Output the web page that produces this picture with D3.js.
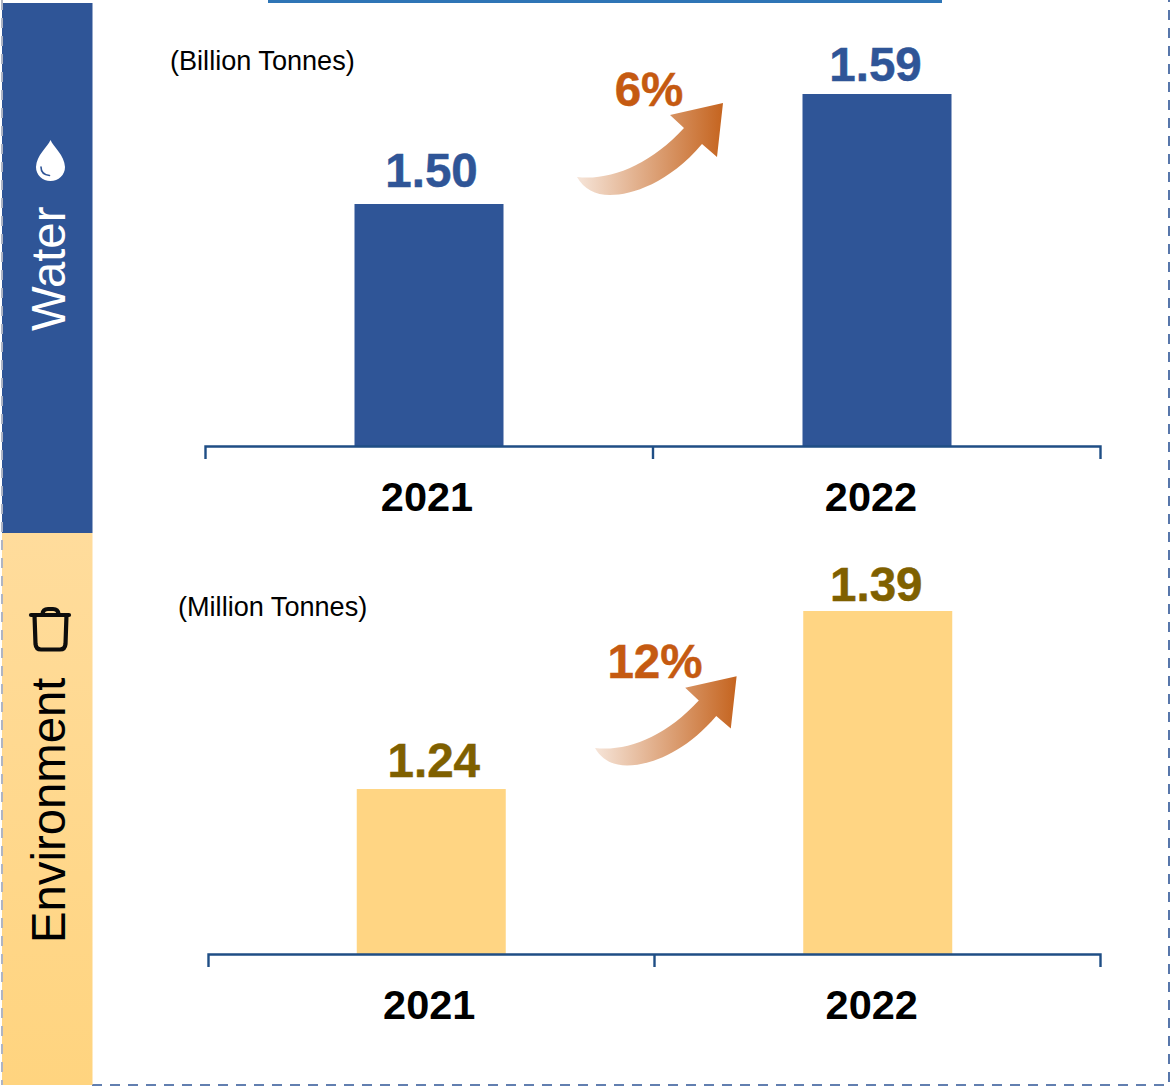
<!DOCTYPE html>
<html>
<head>
<meta charset="utf-8">
<script src="https://cdn.jsdelivr.net/npm/d3@7"></script>
<style>
  html, body { margin: 0; padding: 0; background: #fff; }
  svg { display: block; font-family: "Liberation Sans", Arial, sans-serif; }
</style>
</head>
<body>
<svg id="chart" width="1170" height="1086"></svg>
<script>
// Reported figures, two years per panel
const years = ["2021", "2022"];
const waterValues = [1.50, 1.59];
const wasteValues = [1.24, 1.39];
const waterChange = "6%";
const wasteChange = "12%";
const waterUnit = "(Billion Tonnes)";
const wasteUnit = "(Million Tonnes)";

const BLUE = "#2F5597", SAND = "#FFD583", RUST = "#C55A11", OLIVE = "#7F6000", AXIS = "#1F4E85";

const svg = d3.select("#chart");
const defs = svg.append("defs");

const sandFill = defs.append("linearGradient").attr("id", "sandFill")
  .attr("x1", 0).attr("y1", 0).attr("x2", 0).attr("y2", 1);
sandFill.append("stop").attr("offset", 0).attr("stop-color", "#FFDC9C");
sandFill.append("stop").attr("offset", 1).attr("stop-color", "#FFD47F");

const arrowFill = defs.append("linearGradient").attr("id", "arrowFill")
  .attr("x1", 0).attr("y1", 0).attr("x2", 1).attr("y2", 0);
arrowFill.append("stop").attr("offset", 0).attr("stop-color", "#F6E5D9");
arrowFill.append("stop").attr("offset", 1).attr("stop-color", "#C5641F");

// Page frame: dashed edge and the short rule along the top
const dash = "10 8";
svg.append("path").attr("d", "M92,1085H1169V0").attr("fill", "none")
  .attr("stroke", BLUE).attr("stroke-width", 1.6).attr("stroke-dasharray", dash);
svg.append("rect").attr("x", 268).attr("y", 0).attr("width", 674).attr("height", 3).attr("fill", "#2E75B6");

// Side bands
svg.append("rect").attr("x", 2).attr("y", 3).attr("width", 90.5).attr("height", 530).attr("fill", BLUE);
svg.append("rect").attr("x", 2).attr("y", 533).attr("width", 90.5).attr("height", 552).attr("fill", "url(#sandFill)");
svg.append("path").attr("d", "M2,0V1085").attr("fill", "none")
  .attr("stroke", "#AEB4C4").attr("stroke-width", 2).attr("stroke-dasharray", dash);

function bandLabel(text, x, y, color) {
  svg.append("text").attr("transform", `translate(${x},${y}) rotate(-90)`)
    .attr("font-size", 47.3).attr("fill", color).text(text);
}
bandLabel("Water", 65, 331, "#fff");
bandLabel("Environment", 65, 943, "#000");

// Water drop
const drop = svg.append("g").attr("transform", "translate(50.5,140)");
drop.append("path").attr("fill", "#fff")
  .attr("d", "M0,0 C3,7 14,15 14.5,27 C14.5,35 8,41 0,41 C-8,41 -14.5,35 -14.5,27 C-14,15 -3,7 0,0Z");
drop.append("path").attr("fill", "none").attr("stroke", BLUE).attr("stroke-width", 1.6)
  .attr("stroke-linecap", "round").attr("d", "M-9.5,27 C-9.5,32 -6,35 -1,35.5");

// Waste bin
const bin = svg.append("g").attr("fill", "none").attr("stroke", "#0d0d0d")
  .attr("stroke-width", 4.2).attr("stroke-linecap", "round").attr("stroke-linejoin", "round");
bin.append("path").attr("d", "M31,615H69");
bin.append("path").attr("d", "M34.5,615L35.5,644Q36,649.5 41,649.5H60Q65,649.5 65.5,644L66.5,615");
bin.append("path").attr("d", "M42.5,614Q43,609 48,609H53Q58,609 58.5,614");

// One panel: bars on a truncated value scale, a hinge tick axis, and labels
function panel(o) {
  const x = d3.scaleBand().domain(o.years).range(o.xRange).padding(0).paddingInner(0);
  const y = d3.scaleLinear().domain(o.valueDomain).range([o.baseline, o.valueTop]);
  const bw = o.barWidth;
  const g = svg.append("g");

  g.selectAll("rect.bar").data(o.values).join("rect").attr("class", "bar")
    .attr("x", (d, i) => x(o.years[i]) + (x.bandwidth() - bw) / 2)
    .attr("width", bw)
    .attr("y", d => y(d))
    .attr("height", d => o.baseline - y(d))
    .attr("fill", o.barColor);

  const axisScale = d3.scaleLinear().domain([0, 2]).range(o.axisRange);
  const axis = g.append("g").attr("transform", `translate(0,${o.baseline})`)
    .call(d3.axisBottom(axisScale).tickValues([1]).tickSize(13).tickFormat(""));
  axis.selectAll("path, line").attr("stroke", AXIS).attr("stroke-width", 2.4);

  g.selectAll("text.value").data(o.values).join("text").attr("class", "value")
    .attr("x", (d, i) => x(o.years[i]) + x.bandwidth() / 2 + o.valueShift[i])
    .attr("y", (d, i) => y(d) - o.valueGap[i])
    .attr("text-anchor", "middle").attr("font-weight", 700).attr("font-size", 47.5)
    .attr("fill", o.valueColor).attr("stroke", o.valueColor).attr("stroke-width", 0.5)
    .text(d => d.toFixed(2));

  g.selectAll("text.year").data(o.years).join("text").attr("class", "year")
    .attr("x", (d, i) => x(d) + x.bandwidth() / 2 + o.yearShift[i])
    .attr("y", o.yearY)
    .attr("text-anchor", "middle").attr("font-weight", 700).attr("font-size", 41.5)
    .attr("fill", "#000")
    .text(d => d);

  g.append("text").attr("x", o.unitPos[0]).attr("y", o.unitPos[1])
    .attr("font-size", 27.1).attr("fill", "#000").text(o.unit);

  g.append("path")
    .attr("transform", `translate(${o.arrowAt[0]},${o.arrowAt[1]}) scale(${o.arrowScale})`)
    .attr("d", "M0,0 C33,4 73,-12 107,-49 L93,-62 L146,-74 L140,-20 L125,-33 C92,6 55,18 33,18 C18,18 7,12 0,0Z")
    .attr("fill", "url(#arrowFill)");

  g.append("text").attr("x", o.changePos[0]).attr("y", o.changePos[1])
    .attr("text-anchor", "middle").attr("font-weight", 700).attr("font-size", 47.5)
    .attr("fill", RUST).attr("stroke", RUST).attr("stroke-width", 0.5).text(o.change);
}

panel({
  years, values: waterValues, unit: waterUnit, change: waterChange,
  xRange: [205, 1101], axisRange: [205, 1100], baseline: 446, valueDomain: [1.302, 1.59], valueTop: 94,
  barWidth: 149, barColor: BLUE, valueColor: BLUE, valueShift: [2.5, -1.5], valueGap: [17, 13.5],
  yearY: 511, yearShift: [-2, -6], unitPos: [170, 70],
  arrowAt: [577, 177], arrowScale: 1, changePos: [649, 106]
});

panel({
  years, values: wasteValues, unit: wasteUnit, change: wasteChange,
  xRange: [208, 1101], axisRange: [208, 1100], baseline: 954, valueDomain: [1.101, 1.39], valueTop: 611,
  barWidth: 149, barColor: SAND, valueColor: OLIVE, valueShift: [2.5, -1.5], valueGap: [12, 10],
  yearY: 1019, yearShift: [-2, -6], unitPos: [178, 615.5],
  arrowAt: [595, 748], arrowScale: 0.97, changePos: [655, 678]
});
</script>
</body>
</html>
